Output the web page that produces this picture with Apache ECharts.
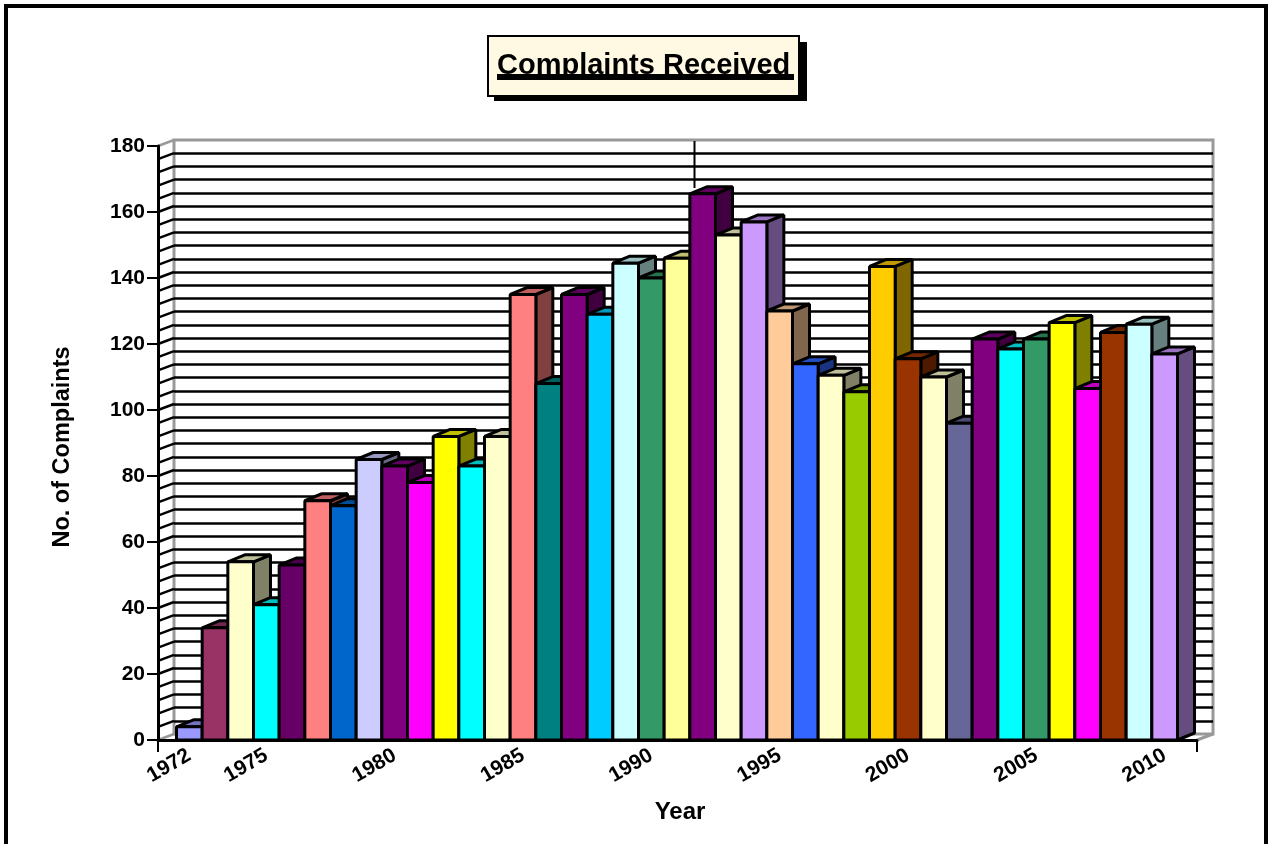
<!DOCTYPE html>
<html><head><meta charset="utf-8">
<style>html,body{margin:0;padding:0;background:#fff;overflow:hidden}#c{width:1269px;height:844px}</style>
<script src="https://cdn.jsdelivr.net/npm/echarts@6/dist/echarts.min.js"></script>
</head><body><div id="c"></div>
<script>
const years = ['1972','1973','1974','1975','1976','1977','1978','1979','1980','1981','1982','1983','1984','1985','1986','1987','1988','1989','1990','1991','1992','1993','1994','1995','1996','1997','1998','1999','2000','2001','2002','2003','2004','2005','2006','2007','2008','2009','2010'];
const complaints = [4,34,54,41,53,72.5,71,85,83,78,92,83,92,135,108,135,129,144.5,140,146,165.5,153,157,130,114,110.5,105.5,143.5,115.5,110,96,121.5,118.5,121.5,126.5,106.5,123.5,126,117];
const barColors = ['#9999FF','#993366','#FFFFCC','#00FFFF','#660066','#FF8080','#0066CC','#CCCCFF','#800080','#FF00FF','#FFFF00','#00FFFF','#FFFFCC','#FF8080','#008080','#800080','#00CCFF','#CCFFFF','#339966','#FFFF99','#800080','#FFFFCC','#CC99FF','#FFCC99','#3366FF','#FFFFCC','#99CC00','#FFCC00','#993300','#FFFFCC','#666699','#800080','#00FFFF','#339966','#FFFF00','#FF00FF','#993300','#CCFFFF','#CC99FF'];
const labelledYears = ['1972','1975','1980','1985','1990','1995','2000','2005','2010'];
const minorTicks = [0,4,8,12,16,20,24,28,32,36,40,44,48,52,56,60,64,68,72,76,80,84,88,92,96,100,104,108,112,116,120,124,128,132,136,140,144,148,152,156,160,164,168,172,176,180];
const titleText = 'Complaints Received';
const FONT = '"Liberation Sans", Arial, sans-serif';
const DX = 17, DY = -7;

function shade(hex, k){
  const n = parseInt(hex.slice(1),16);
  const c = [(n>>16)&255,(n>>8)&255,n&255].map(v=>Math.round(v*k));
  return 'rgb('+c.join(',')+')';
}
const chart = echarts.init(document.getElementById('c'), null, {renderer:'canvas', width:1269, height:844});
chart.setOption({
  animation:false,
  backgroundColor:'#fff',
  title:{
    text:titleText, left:488, top:36, padding:[12,9,12,9], z:8,
    backgroundColor:'#FFF8E3', borderColor:'#000', borderWidth:2,
    textStyle:{fontFamily:FONT,fontWeight:'bold',fontSize:29,color:'#000',lineHeight:36}
  },
  grid:[
    {left:174,top:140,width:1039,height:594,show:true,borderColor:'#999',borderWidth:3,backgroundColor:'#fff'},
    {left:158,top:146,width:1039,height:594},
    {left:176.5,top:146,width:1001,height:594}
  ],
  xAxis:[
    {gridIndex:0,type:'value',min:0,max:1,show:false},
    {gridIndex:1,type:'value',min:0,max:1,interval:1,z:6,
      axisLine:{lineStyle:{color:'#000',width:3}},axisTick:{length:12,inside:false,lineStyle:{color:'#000',width:2}},
      axisLabel:{show:false},splitLine:{show:false},
      name:'Year',nameLocation:'middle',nameGap:60,nameTextStyle:{fontFamily:FONT,fontWeight:'bold',fontSize:24,color:'#000',padding:[0,0,0,5]}},
    {gridIndex:2,type:'category',data:years,
      axisLine:{show:false},axisTick:{show:false},splitLine:{show:false},
      axisLabel:{interval:(i,v)=>labelledYears.includes(v),rotate:30,margin:14,fontFamily:FONT,fontWeight:'bold',fontSize:21,color:'#000'}}
  ],
  yAxis:[
    {gridIndex:0,type:'value',min:0,max:180,interval:4,
      axisLine:{show:false},axisTick:{show:false},axisLabel:{show:false},
      splitLine:{show:true,showMaxLine:false,showMinLine:false,lineStyle:{color:'#000',width:2.5}}},
    {gridIndex:1,type:'value',min:0,max:180,interval:20,z:6,
      axisLine:{show:true,lineStyle:{color:'#000',width:3}},
      axisTick:{show:true,length:11,lineStyle:{color:'#000',width:2}},
      axisLabel:{margin:13,fontFamily:FONT,fontWeight:'bold',fontSize:21,color:'#000'},splitLine:{show:false},
      name:'No. of Complaints',nameLocation:'middle',nameGap:83,nameTextStyle:{fontFamily:FONT,fontWeight:'bold',fontSize:23.5,color:'#000',padding:[0,8,0,0]}},
    {gridIndex:2,type:'value',min:0,max:180,show:false}
  ],
  series:[
    {type:'custom',xAxisIndex:1,yAxisIndex:1,clip:false,z:1,data:minorTicks,silent:true,
      renderItem(params,api){
        const v = api.value(0);
        const p = api.coord([0,v]);
        const grey = v===0||v===180;
        const children = [{type:'line',shape:{x1:p[0],y1:p[1],x2:p[0]+16,y2:p[1]-6},
          style:{stroke:grey?'#999':'#000',lineWidth:2.5}}];
        if(v===0){
          const q = api.coord([1,0]);
          children.push({type:'line',shape:{x1:q[0],y1:q[1],x2:q[0]+16,y2:q[1]-6},style:{stroke:'#999',lineWidth:3}});
        }
        return {type:'group',children};
      },
      encode:{y:0}},
    {type:'custom',xAxisIndex:2,yAxisIndex:2,clip:false,z:3,silent:true,
      data:complaints.map((v,i)=>[i,v]),
      encode:{x:0,y:1},
      renderItem(params,api){
        const i = api.value(0), v = api.value(1);
        const top = api.coord([i,v]), base = api.coord([i,0]);
        const w = api.size([1,0])[0];
        const x0 = top[0]-w/2, x1 = top[0]+w/2, y0 = top[1], y1 = base[1];
        const col = barColors[i];
        const s = {stroke:'#000',lineWidth:3,lineJoin:'bevel'};
        return {type:'group',children:[
          {type:'polygon',shape:{points:[[x1,y0],[x1+DX,y0+DY],[x1+DX,y1+DY],[x1,y1]]},style:Object.assign({fill:shade(col,0.5)},s)},
          {type:'polygon',shape:{points:[[x0,y0],[x0+DX,y0+DY],[x1+DX,y0+DY],[x1,y0]]},style:Object.assign({fill:shade(col,0.75)},s)},
          {type:'rect',shape:{x:x0,y:y0,width:w,height:y1-y0},style:Object.assign({fill:col},s)}
        ]};
      }}
  ],
  graphic:[
    {type:'rect',z:100,shape:{x:6,y:6,width:1260,height:900},style:{fill:'none',stroke:'#000',lineWidth:4}},
    {type:'rect',z:2,shape:{x:494,y:42,width:313,height:59},style:{fill:'#000'}},
    {type:'rect',z:100,shape:{x:497,y:74,width:297,height:6},style:{fill:'#000'}},
    {type:'line',z:0,shape:{x1:694.5,y1:141,x2:694.5,y2:188},style:{stroke:'#000',lineWidth:2}}
  ]
});
</script></body></html>
